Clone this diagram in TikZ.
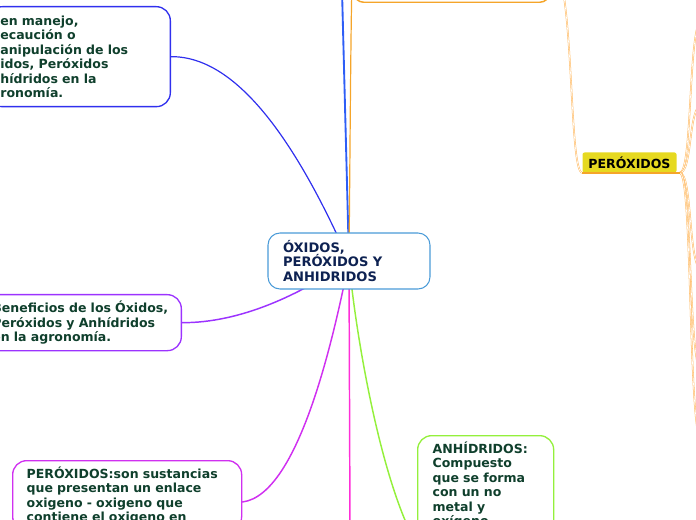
\documentclass[tikz,border=0pt]{standalone}
\usepackage{fontspec}
\setmainfont{DejaVu Sans}
\usepackage{xcolor}
\usetikzlibrary{positioning,calc,backgrounds}
\definecolor{ctrline}{HTML}{4A9BD8}
\definecolor{ctrtext}{HTML}{0E2252}
\definecolor{leaftext}{HTML}{0F3F2C}
\definecolor{bluecurve}{HTML}{3030EE}
\definecolor{bluevert}{HTML}{2E5EF6}
\definecolor{violetb}{HTML}{9C33FF}
\definecolor{magbox}{HTML}{D030F0}
\definecolor{pinkv}{HTML}{FF2ED8}
\definecolor{limeg}{HTML}{94F03C}
\definecolor{orangeb}{HTML}{F5A52A}
\definecolor{orangel}{HTML}{FFBA62}
\definecolor{yellowp}{HTML}{E6D920}

\tikzset{
  leaf/.style={draw, line width=1pt, rounded corners=10.5pt, fill=white, text=leaftext,
    align=left, font=\fontsize{9.4}{10.9}\selectfont\bfseries, inner ysep=4.5pt},
  branch/.style={line width=1.1pt, line cap=round},
  twig/.style={draw=orangel, line width=0.4pt, double=white, double distance=0.45pt}
}

\begin{document}
\begin{tikzpicture}[x=0.75pt, y=-0.75pt]
\useasboundingbox (0,0) rectangle (696,520);

% central topic
\node[draw=ctrline, fill=white, line width=0.8pt, rounded corners=9pt, text=ctrtext,
  align=left, text width=99pt, inner xsep=11.25pt, minimum height=42pt,
  font=\fontsize{9.8}{10.9}\selectfont\bfseries] (ctr) at (349,261) {ÓXIDOS,\\PERÓXIDOS Y\\ANHIDRIDOS};

% leaves on the left
\node[leaf, draw=bluecurve, anchor=north east, text width=118.5pt, inner xsep=9pt, minimum height=75pt]
  (cuid) at (171,6) {en manejo,\\ecaución o\\anipulación de los\\idos, Peróxidos\\hídridos en la\\ronomía.};
\node[leaf, draw=violetb, anchor=north east, text width=132.75pt, inner xsep=9pt, minimum height=42pt]
  (bene) at (182,294) {Beneficios de los Óxidos,\\Peróxidos y Anhídridos\\en la agronomía.};
\node[leaf, draw=magbox, anchor=north west, text width=150.75pt, inner xsep=10.5pt]
  (pdef) at (12,460) {PERÓXIDOS:son sustancias\\que presentan un enlace\\oxigeno - oxigeno que\\contiene el oxigeno en};

% leaf at the bottom
\node[leaf, draw=limeg, anchor=north west, text width=79.5pt, inner xsep=11.25pt]
  (anh) at (417,435) {ANHÍDRIDOS:\\Compuesto\\que se forma\\con un no\\metal y\\oxígeno.};

% orange branch on the right
\node[draw=orangeb, line width=1.1pt, rounded corners=7.5pt, minimum width=147pt, minimum height=60pt,
  anchor=south west, inner sep=0pt] (otop) at (353,3) {};
\node[fill=yellowp, rounded corners=1.5pt, minimum width=70.5pt, minimum height=15pt, inner sep=0pt,
  font=\fontsize{9.4}{10.9}\selectfont\bfseries] (perox) at (629.5,162.5) {PERÓXIDOS};
\draw[orangeb, line width=1.2pt] (perox.south west) -- ($(perox.south east)+(3,0)$) coordinate (fork);

\coordinate (up1) at (342,-10);
\coordinate (down1) at (350,530);

\begin{scope}[on background layer]
\draw[branch, bluecurve, line width=0.9pt] (ctr.center) .. controls (300,150) and (240,56) .. (cuid.east);
\draw[branch, bluevert, line width=1.4pt] (ctr.center) -- (up1);
\draw[branch, orangeb, line width=0.9pt] (ctr.center) .. controls (350.5,100) and (351,-20) .. (otop.west);
\draw[branch, violetb] (ctr.center) .. controls (300,295) and (240,323) .. (bene.east);
\draw[branch, magbox] (ctr.center) .. controls (335,330) and (300,495) .. ($(pdef.north east)+(0,42)$);
\draw[branch, pinkv] (ctr.center) -- (down1);
\draw[branch, limeg] (ctr.center) .. controls (355,330) and (380,480) .. ($(anh.north west)+(0,110)$);
\draw[twig] (otop.east) .. controls (575,-37) and (568,173) .. (perox.south west);
\foreach \ty in {20,105,270,372,442}
  \draw[twig] (fork) .. controls +(13,0) and +(-14,0) .. (702,\ty);
\end{scope}
\end{tikzpicture}
\end{document}
